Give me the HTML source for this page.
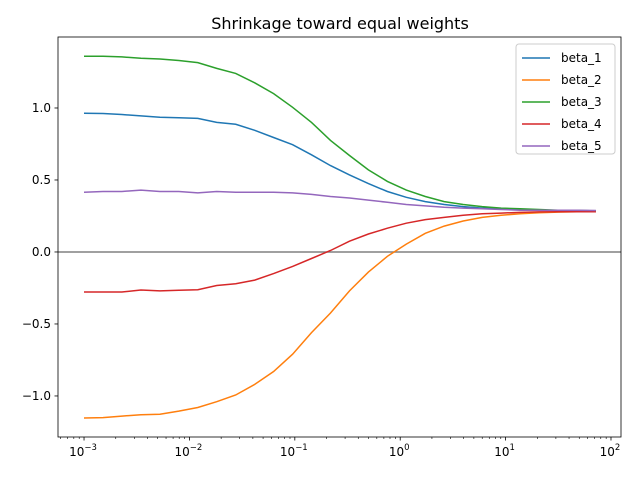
<!DOCTYPE html>
<html><head><meta charset="utf-8"><style>
body{margin:0;background:#fff}
svg text{font-family:"DejaVu Sans","Liberation Sans",sans-serif}
</style></head><body>
<svg id="chart" width="640" height="480" viewBox="0 0 640 480" xmlns="http://www.w3.org/2000/svg">
<rect width="640" height="480" fill="#fff"/>
<text x="340" y="29" text-anchor="middle" font-size="16">Shrinkage toward equal weights</text>
<g id="plot"></g>
</svg>
<script>
const seriesNames=["beta_1","beta_2","beta_3","beta_4","beta_5"];
const beta1=[0.963,0.962,0.955,0.945,0.935,0.932,0.928,0.9,0.887,0.845,0.795,0.745,0.675,0.6,0.535,0.475,0.42,0.38,0.35,0.33,0.315,0.305,0.3,0.295,0.29,0.29,0.288,0.285];
const beta2=[-1.153,-1.15,-1.14,-1.13,-1.127,-1.105,-1.08,-1.04,-0.993,-0.92,-0.83,-0.71,-0.56,-0.424,-0.27,-0.14,-0.03,0.055,0.13,0.18,0.215,0.24,0.255,0.265,0.272,0.277,0.28,0.28];
const beta3=[1.36,1.36,1.355,1.345,1.34,1.33,1.315,1.275,1.24,1.175,1.1,1.005,0.9,0.775,0.67,0.57,0.49,0.43,0.385,0.35,0.33,0.315,0.305,0.3,0.295,0.29,0.288,0.285];
const beta4=[-0.278,-0.278,-0.278,-0.264,-0.27,-0.266,-0.262,-0.233,-0.22,-0.195,-0.15,-0.1,-0.045,0.01,0.075,0.125,0.165,0.2,0.225,0.24,0.255,0.265,0.27,0.275,0.278,0.28,0.28,0.28];
const beta5=[0.415,0.42,0.42,0.43,0.42,0.42,0.41,0.42,0.415,0.415,0.415,0.41,0.4,0.385,0.375,0.36,0.345,0.33,0.32,0.31,0.305,0.3,0.295,0.29,0.29,0.29,0.29,0.288];
const logLambdaStart=-3, logLambdaEnd=1.857;
const xTickExps=[-3,-2,-1,0,1,2];
const yTicks=[-1.0,-0.5,0.0,0.5,1.0];
const yTickLabels=["\u22121.0","\u22120.5","0.0","0.5","1.0"];
const colors=["#1f77b4","#ff7f0e","#2ca02c","#d62728","#9467bd"];
const L=58,R=621,T=37,B=437;
const xMinL=-3.247,xMaxL=2.095,yMin=-1.285,yMax=1.493;
const xs=l=>L+(l-xMinL)/(xMaxL-xMinL)*(R-L);
const ys=v=>B-(v-yMin)/(yMax-yMin)*(B-T);
const ns="http://www.w3.org/2000/svg";
const g=document.getElementById('plot');
function mk(t,a){const e=document.createElementNS(ns,t);for(const k in a)e.setAttribute(k,a[k]);g.appendChild(e);return e;}
let z=mk('line',{x1:L,x2:R,y1:ys(0),y2:ys(0),stroke:'#808080','stroke-width':1.5});


const all=[beta1,beta2,beta3,beta4,beta5];
all.forEach((s,k)=>{
 const n=s.length;
 const pts=s.map((v,i)=>xs(logLambdaStart+i*(logLambdaEnd-logLambdaStart)/(n-1)).toFixed(1)+','+ys(v).toFixed(1)).join(' ');
 const p=mk('polyline',{points:pts,fill:'none',stroke:colors[k],'stroke-width':1.5});
 
 
});
mk('rect',{x:L,y:T,width:R-L,height:B-T,fill:'none',stroke:'#000','stroke-width':0.8});
xTickExps.forEach(e=>{
 const x=xs(e);
 mk('line',{x1:x,x2:x,y1:B,y2:B+3.5,stroke:'#000','stroke-width':0.8});
 const t=mk('text',{x:x-1,y:B+19,'text-anchor':'middle','font-size':12});
 
 
 t.textContent='10';
 const sp=document.createElementNS(ns,'tspan');sp.setAttribute('font-size','8.5');sp.setAttribute('dy','-6');
 sp.textContent=e<0?'\u2212'+(-e):String(e);t.appendChild(sp);
 for(let m=2;m<10;m++){const lx=xs(e+Math.log10(m)-1);if(lx>L&&lx<R)mk('line',{x1:lx,x2:lx,y1:B,y2:B+2,stroke:'#000','stroke-width':0.6});}
});
for(let m=2;m<10;m++){const lx=xs(2+Math.log10(m));if(lx<R)mk('line',{x1:lx,x2:lx,y1:B,y2:B+2,stroke:'#000','stroke-width':0.6});}
yTicks.forEach((v,i)=>{
 const y=ys(v);
 mk('line',{x1:L-3.5,x2:L,y1:y,y2:y,stroke:'#000','stroke-width':0.8});
 const t=mk('text',{x:L-7,y:y+4,'text-anchor':'end','font-size':12});
 
 
 t.textContent=yTickLabels[i];
});
const lg=mk('rect',{x:516,y:44,width:99,height:110,fill:'#fff',stroke:'#ccc',rx:3});


seriesNames.forEach((nm,k)=>{
 const y=58+k*22;
 mk('line',{x1:522,x2:550,y1:y,y2:y,stroke:colors[k],'stroke-width':1.5});
 const t=mk('text',{x:561,y:y+4,'font-size':12});
 
 
 t.textContent=nm;
});
</script>
</body></html>
